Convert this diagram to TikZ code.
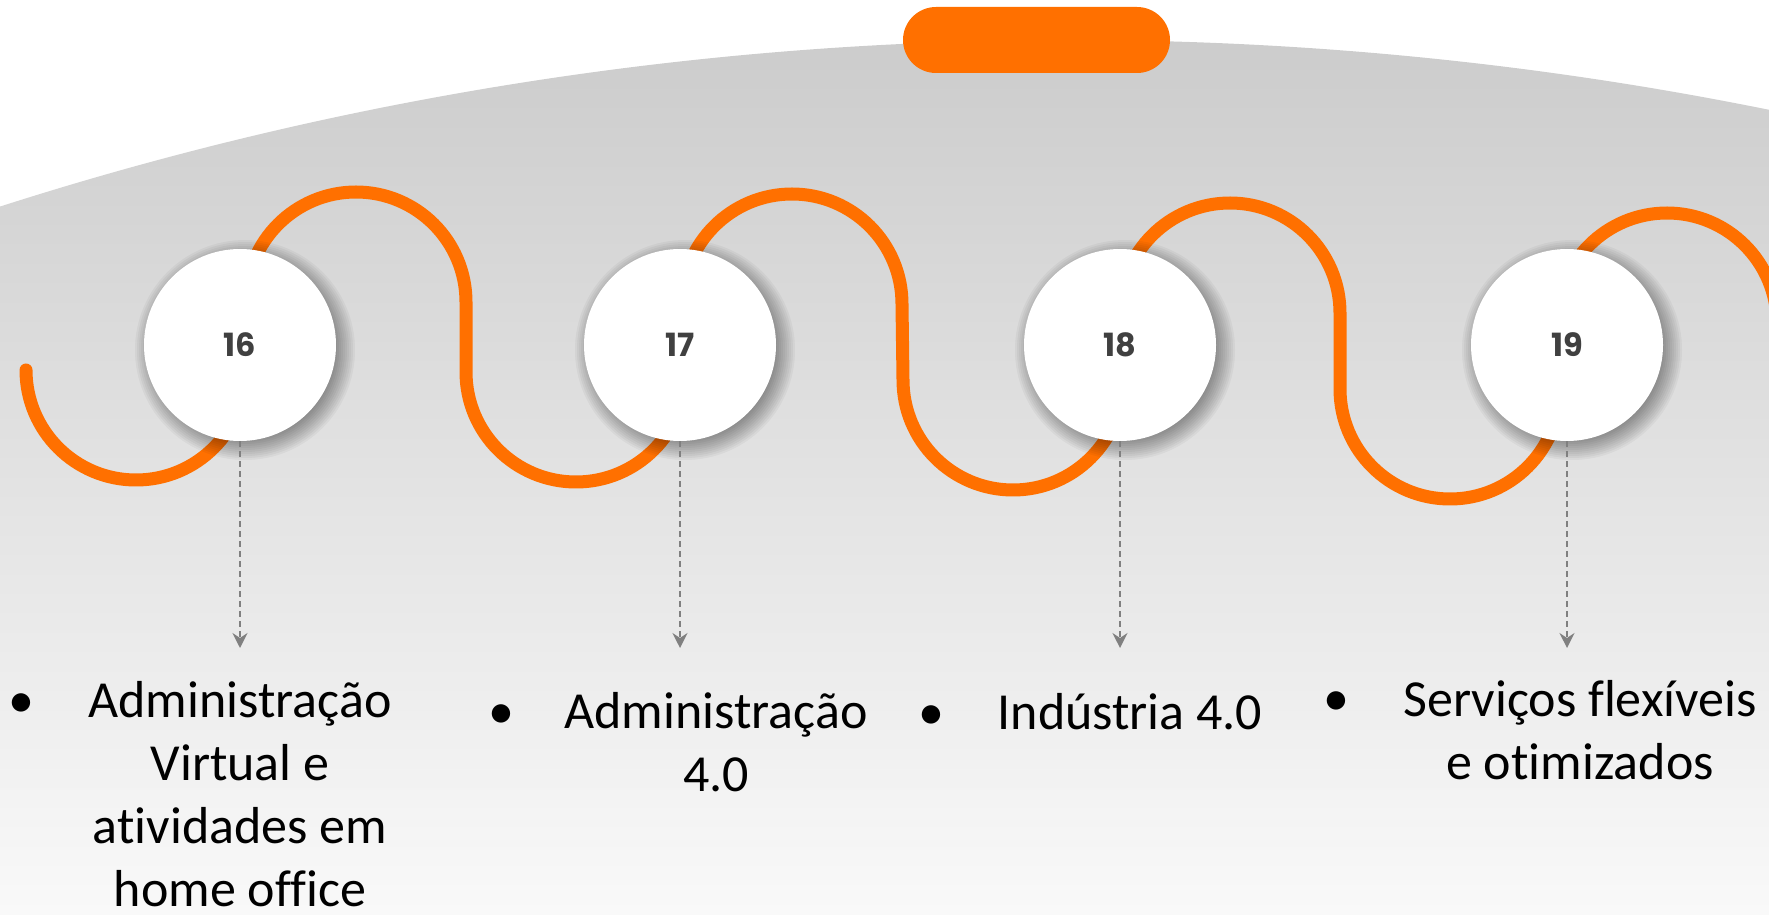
\documentclass[tikz,border=0pt]{standalone}
\usepackage{fontspec}
\usepackage{xcolor}
\usetikzlibrary{arrows.meta}
\newfontfamily\labelfont{Carlito}[Ligatures=NoCommon]
\newfontfamily\numfont{Poppins}
\definecolor{orange}{HTML}{FF7000}
\definecolor{topgray}{HTML}{CCCCCC}
\definecolor{bottomgray}{HTML}{F9F9F9}
\definecolor{numgray}{HTML}{404040}
\definecolor{arrowgray}{HTML}{808080}

\tikzset{
    stop/.style={circle, fill=white, minimum size=192pt, inner sep=0pt,
        font=\numfont\bfseries\fontsize{32}{32}\selectfont, text=numgray},
    pill/.style={fill=orange, rounded corners=33pt, minimum width=267pt, minimum height=66pt, inner sep=0pt},
    wave/.style={draw=orange, line width=13pt, line cap=round, line join=round},
    pointer/.style={draw=arrowgray, line width=2pt, dash pattern=on 6pt off 4pt,
        -{Stealth[length=15pt,width=15pt,inset=5pt]}},
    item/.style={font=\labelfont\fontsize{52}{63}\selectfont, align=center, anchor=base, inner sep=0pt},
    bullet/.style={font=\labelfont\fontsize{52}{63}\selectfont, anchor=base, inner sep=0pt}
}

\begin{document}
\begin{tikzpicture}[x=1pt,y=1pt]

    \useasboundingbox (0,0) rectangle (1769,914);

    % grey dome
    \begin{scope}
        \clip (1070,-2626) circle (3500);
        \shade[top color=topgray, bottom color=bottomgray] (0,0) rectangle (1769,874);
    \end{scope}

    \node[pill] (title) at (1036.5,874) {};

    % the orange line
    \draw[wave] (26,544) arc[start angle=180, end angle=360, radius=110]
        -- (246,612) arc[start angle=180, end angle=0, radius=110]
        -- (466,542) arc[start angle=180, end angle=360, radius=110]
        -- (682,610) arc[start angle=180, end angle=0, radius=110]
        -- (903,534) arc[start angle=180, end angle=360, radius=110]
        -- (1120,601) arc[start angle=180, end angle=0, radius=110]
        -- (1340,525) arc[start angle=180, end angle=360, radius=110]
        -- (1557,591) arc[start angle=180, end angle=0, radius=110]
        -- (1777,540);

    \coordinate (p16) at (240,569);
    \coordinate (p17) at (680,569);
    \coordinate (p18) at (1120,569);
    \coordinate (p19) at (1567,569);

    % soft shadows
    \foreach \p in {p16,p17,p18,p19}
        \foreach \r in {84,86,...,110}
            \fill[black, opacity=0.04] ([shift={(5,-5)}]\p) circle (\r);

    \node[stop] (c16) at (p16) {16};
    \node[stop] (c17) at (p17) {17};
    \node[stop] (c18) at (p18) {18};
    \node[stop] (c19) at (p19) {19};

    \coordinate (e16) at (240,266);
    \coordinate (e17) at (680,266);
    \coordinate (e18) at (1120,266);
    \coordinate (e19) at (1567,266);
    \draw[pointer] (c16.south) -- (e16);
    \draw[pointer] (c17.south) -- (e17);
    \draw[pointer] (c18.south) -- (e18);
    \draw[pointer] (c19.south) -- (e19);

    \node[bullet] (b16) at (21,197) {•};
    \node[item] (t16) at (240,8) {Administração\\Virtual e\\atividades em\\home office};
    \node[bullet] (b17) at (501,186) {•};
    \node[item] (t17) at (716,123) {Administração\\4.0};
    \node[bullet] (b18) at (931,185) {•};
    \node[item] (t18) at (1130,185) {Indústria 4.0};
    \node[bullet] (b19) at (1336,199) {•};
    \node[item] (t19) at (1580,135) {Serviços flexíveis\\e otimizados};

\end{tikzpicture}
\end{document}
